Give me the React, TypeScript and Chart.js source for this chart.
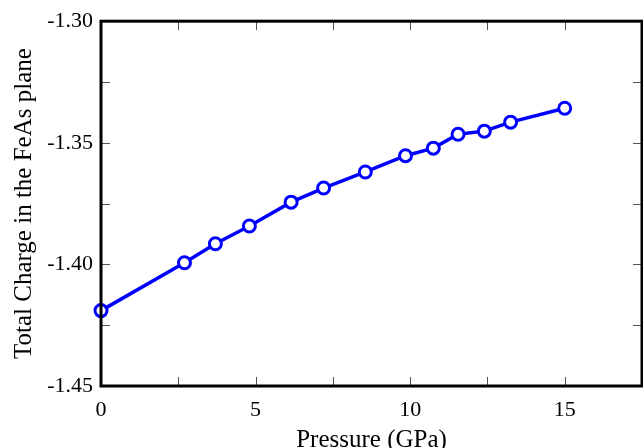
import React, { useEffect, useRef } from "react";
import { Chart, registerables } from "chart.js";

Chart.register(...registerables);

const pressure = [0, 2.7, 3.7, 4.8, 6.15, 7.2, 8.55, 9.85, 10.75, 11.55, 12.4, 13.25, 15.0];
const charge = [-1.419, -1.3993, -1.3915, -1.3842, -1.3744, -1.3686, -1.362, -1.3553, -1.3522, -1.3465, -1.3452, -1.3415, -1.3358];
const xTicks = [0, 5, 10, 15];
const yTicks = [-1.45, -1.4, -1.35, -1.3];
const xMinorTicks = [2.5, 7.5, 12.5, 17.5];
const yMinorTicks = [-1.425, -1.375, -1.325];
const xTitle = "Pressure (GPa)";
const yTitle = "Total Charge in the FeAs plane";

const frameTicks = {
  id: "frameTicks",
  afterDatasetsDraw(chart: any) {
    const { ctx, chartArea } = chart;
    const { left, right, top, bottom } = chartArea;
    const xs = chart.scales.x;
    const ys = chart.scales.y;
    ctx.save();
    ctx.strokeStyle = "#555";
    ctx.lineWidth = 1;
    const len = 9;
    ctx.beginPath();
    [...xTicks, ...xMinorTicks].forEach((v) => {
      const px = Math.round(xs.getPixelForValue(v)) + 0.5;
      if (px <= left + 2 || px >= right - 2) return;
      ctx.moveTo(px, bottom);
      ctx.lineTo(px, bottom - len);
      ctx.moveTo(px, top);
      ctx.lineTo(px, top + len);
    });
    [...yTicks, ...yMinorTicks].forEach((v) => {
      const py = Math.round(ys.getPixelForValue(v)) + 0.5;
      if (py <= top + 2 || py >= bottom - 2) return;
      ctx.moveTo(left, py);
      ctx.lineTo(left + len, py);
      ctx.moveTo(right, py);
      ctx.lineTo(right - len, py);
    });
    ctx.stroke();
    ctx.strokeStyle = "#000";
    ctx.lineWidth = 3;
    ctx.strokeRect(left, top, right - left, bottom - top);
    ctx.restore();
  },
};

export default function App() {
  const ref = useRef<HTMLCanvasElement>(null);
  useEffect(() => {
    document.body.style.margin = "0";
    const font = "'Liberation Serif', 'Times New Roman', serif";
    const chart = new Chart(ref.current!, {
      type: "line",
      data: {
        datasets: [
          {
            data: pressure.map((x, i) => ({ x, y: charge[i] })),
            borderColor: "#0000ff",
            borderWidth: 3.5,
            pointRadius: 6,
            pointBorderWidth: 3,
            pointBackgroundColor: "#ffffff",
            pointBorderColor: "#0000ff",
            clip: false as any,
            tension: 0,
          },
        ],
      },
      options: {
        animation: false,
        responsive: false,
        maintainAspectRatio: false,
        layout: { autoPadding: false, padding: { top: 21, right: 1, left: 0, bottom: 0 } },
        plugins: { legend: { display: false }, tooltip: { enabled: false } },
        scales: {
          x: {
            type: "linear",
            min: 0,
            max: 17.5,
            grid: { display: false, drawTicks: false },
            border: { display: false },
            afterBuildTicks: (s: any) => {
              s.ticks = xTicks.map((v) => ({ value: v }));
            },
            afterFit: (s: any) => {
              s.height = 62;
              s.paddingLeft = 0;
              s.paddingRight = 0;
            },
            ticks: {
              padding: 11,
              color: "#000",
              font: { family: font, size: 22 },
              maxRotation: 0,
              callback: (v: any) => String(v),
            },
            title: {
              display: true,
              text: xTitle,
              color: "#000",
              font: { family: font, size: 25, lineHeight: 1.0 },
              padding: { top: 0, bottom: -5 },
            },
          },
          y: {
            type: "linear",
            min: -1.45,
            max: -1.3,
            grid: { display: false, drawTicks: false },
            border: { display: false },
            afterBuildTicks: (s: any) => {
              s.ticks = yTicks.map((v) => ({ value: v }));
            },
            afterFit: (s: any) => {
              s.width = 101;
            },
            ticks: {
              padding: 8,
              color: "#000",
              font: { family: font, size: 22 },
              callback: (v: any) => Number(v).toFixed(2),
            },
            title: {
              display: true,
              text: yTitle,
              color: "#000",
              font: { family: font, size: 25 },
              padding: { top: 9, bottom: 0 },
            },
          },
        },
      },
      plugins: [frameTicks],
    });
    return () => chart.destroy();
  }, []);
  return (
    <div style={{ width: 643, height: 448, background: "#fff" }}>
      <canvas ref={ref} width={643} height={448} style={{ display: "block" }} />
    </div>
  );
}
